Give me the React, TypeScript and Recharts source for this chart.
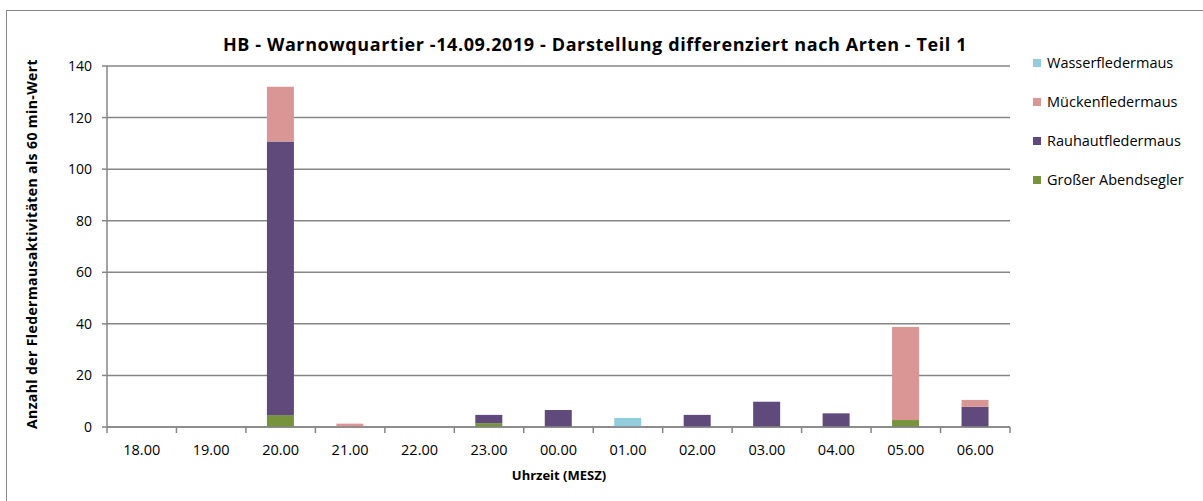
import { BarChart, Bar, XAxis, YAxis, CartesianGrid } from "recharts";

const hours = ["18.00", "19.00", "20.00", "21.00", "22.00", "23.00", "00.00", "01.00", "02.00", "03.00", "04.00", "05.00", "06.00"];
const abendsegler = [0, 0, 4.6, 0, 0, 1.5, 0, 0, 0, 0, 0, 2.7, 0];
const rauhaut = [0, 0, 106.1, 0, 0, 3.2, 6.6, 0, 4.7, 9.8, 5.3, 0, 7.8];
const muecken = [0, 0, 21.3, 1.3, 0, 0, 0, 0, 0, 0, 0, 36.1, 2.7];
const wasser = [0, 0, 0, 0, 0, 0, 0, 3.5, 0, 0, 0, 0, 0];
const yTicks = [0, 20, 40, 60, 80, 100, 120, 140];

const series = [
  { key: "abendsegler", name: "Großer Abendsegler", color: "#77933C" },
  { key: "rauhaut", name: "Rauhautfledermaus", color: "#604A7B" },
  { key: "muecken", name: "Mückenfledermaus", color: "#D99694" },
  { key: "wasser", name: "Wasserfledermaus", color: "#93CDDD" },
];

const data = hours.map((h, i) => ({
  hour: h,
  abendsegler: abendsegler[i],
  rauhaut: rauhaut[i],
  muecken: muecken[i],
  wasser: wasser[i],
}));

const FONT = "'Open Sans', sans-serif";
const GRID = "#868686";
const PLOT_LEFT = 107;
const PLOT_RIGHT = 1010;
const BAND = (PLOT_RIGHT - PLOT_LEFT) / hours.length;

function HourTick(props: any) {
  const { x, y, payload, index } = props;
  return (
    <g>
      <line x1={x - BAND / 2} x2={x - BAND / 2} y1={y} y2={y + 6} stroke={GRID} strokeWidth={1.5} />
      {index === hours.length - 1 && (
        <line x1={x + BAND / 2} x2={x + BAND / 2} y1={y} y2={y + 6} stroke={GRID} strokeWidth={1.5} />
      )}
      <text x={x} y={y + 28} textAnchor="middle" fill="#000" fontSize={14.5} fontFamily={FONT}>
        {payload.value}
      </text>
    </g>
  );
}

function LegendList() {
  return (
    <div style={{ position: "absolute", left: 1033, top: 43, fontFamily: FONT, fontSize: 14.5, color: "#000" }}>
      {[...series].reverse().map((s) => (
        <div key={s.key} style={{ display: "flex", alignItems: "center", height: 39, whiteSpace: "nowrap" }}>
          <span style={{ width: 8, height: 8, background: s.color, marginRight: 6, display: "inline-block" }} />
          <span>{s.name}</span>
        </div>
      ))}
    </div>
  );
}

export default function App() {
  return (
    <div style={{ position: "absolute", left: 0, top: 0, width: 1203, height: 501, background: "#fff", overflow: "hidden" }}>
      <div style={{ position: "absolute", left: 6, top: 10, width: 1300, height: 600, border: "1.5px solid #868686" }} />
      <BarChart
        width={1203}
        height={501}
        data={data}
        margin={{ top: 66, right: 1203 - PLOT_RIGHT, bottom: 44, left: 47 }}
        barSize={27}
      >
        <text x={595} y={51} textAnchor="middle" fontFamily={FONT} fontWeight="bold" fontSize={18} letterSpacing={0.6} fill="#000">
          HB - Warnowquartier -14.09.2019 - Darstellung differenziert nach Arten - Teil 1
        </text>
        <text
          x={0}
          y={0}
          transform="translate(37,244) rotate(-90)"
          textAnchor="middle"
          fontFamily={FONT}
          fontWeight="bold"
          fontSize={14}
          letterSpacing={0.4}
          fill="#000"
        >
          Anzahl der Fledermausaktivitäten als 60 min-Wert
        </text>
        <text x={559} y={480} textAnchor="middle" fontFamily={FONT} fontWeight="bold" fontSize={13} fill="#000">
          Uhrzeit (MESZ)
        </text>
        <CartesianGrid vertical={false} stroke={GRID} strokeWidth={1.5} />
        <XAxis
          dataKey="hour"
          height={30}
          tickSize={0}
          tickMargin={0}
          tickLine={false}
          axisLine={{ stroke: GRID, strokeWidth: 1.5 }}
          tick={<HourTick />}
          interval={0}
        />
        <YAxis
          width={60}
          domain={[0, 140]}
          ticks={yTicks}
          interval={0}
          tickSize={5}
          tickMargin={10}
          axisLine={{ stroke: GRID, strokeWidth: 1.5 }}
          tickLine={{ stroke: GRID, strokeWidth: 1.5 }}
          tick={{ fill: "#000", fontSize: 14, fontFamily: FONT }}
        />
        {series.map((s) => (
          <Bar key={s.key} dataKey={s.key} name={s.name} stackId="a" fill={s.color} isAnimationActive={false} />
        ))}
      </BarChart>
      <LegendList />
    </div>
  );
}
